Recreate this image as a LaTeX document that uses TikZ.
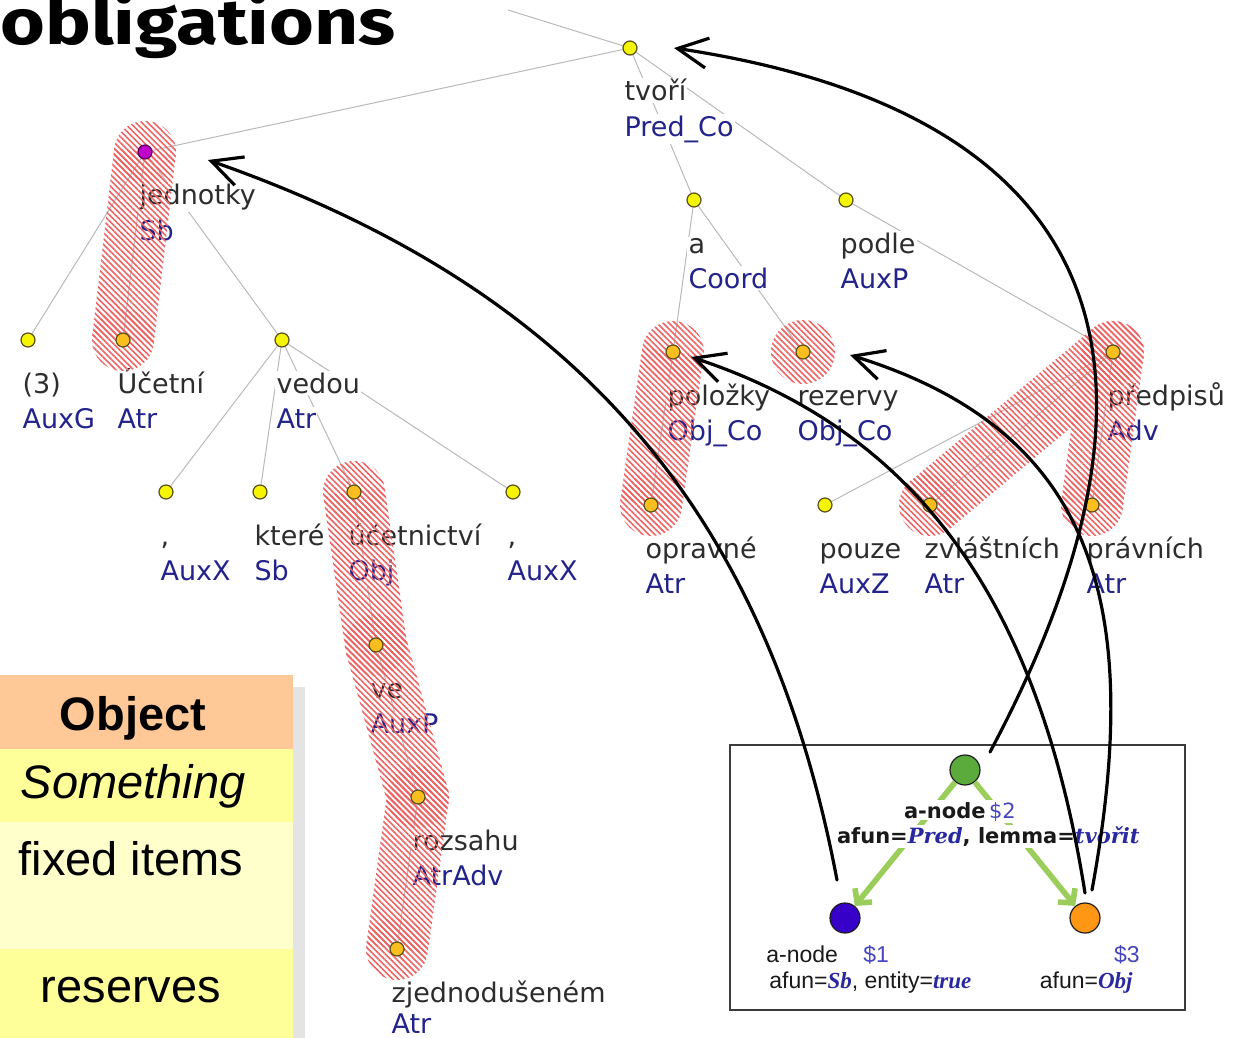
\documentclass[tikz,border=0pt]{standalone}
\usepackage{fontspec}
\usetikzlibrary{calc,arrows.meta,patterns.meta}
\newfontfamily\dv{DejaVu Sans}
\newfontfamily\dvs{DejaVu Serif}
\newfontfamily\lib{Liberation Sans}
\newfontfamily\libs{Liberation Serif}
\newfontfamily\fira{Fira Sans}
\definecolor{edgec}{RGB}{185,185,185}
\definecolor{wordc}{RGB}{45,45,45}
\definecolor{funcc}{RGB}{35,35,140}
\definecolor{nodey}{RGB}{245,245,0}
\definecolor{nodeo}{RGB}{250,190,30}
\definecolor{nodem}{RGB}{190,0,200}
\definecolor{nodemline}{RGB}{90,0,90}
\definecolor{nodeline}{RGB}{90,80,30}
\definecolor{hatchc}{RGB}{238,100,100}
\definecolor{peach}{RGB}{255,200,150}
\definecolor{yel}{RGB}{255,255,153}
\definecolor{lyel}{RGB}{255,255,204}
\definecolor{shadowc}{RGB}{228,228,228}
\definecolor{greenc}{RGB}{90,170,60}
\definecolor{bluec}{RGB}{55,0,200}
\definecolor{orangec}{RGB}{255,150,20}
\definecolor{garrc}{RGB}{155,205,90}
\definecolor{boxblue}{RGB}{40,40,160}
\definecolor{dollarc}{RGB}{70,70,190}
\definecolor{boxline}{RGB}{60,60,60}
\definecolor{circline}{RGB}{30,30,30}
\definecolor{btext}{RGB}{25,25,25}
\pgfdeclarelayer{edgel}\pgfdeclarelayer{labl}\pgfdeclarelayer{hatchl}\pgfdeclarelayer{circl}
\pgfsetlayers{edgel,labl,hatchl,circl,main}
\newcommand\tf{\dv\fontsize{13.5pt}{16pt}\selectfont}
\newcommand\tlab[4]{%
  \node[wd] (#1w) at ($(#2.center)+(-7,53)$) {#3};
  \node[fn] (#1f) at ($(#2.center)+(-7,88)$) {#4};}
\newcommand\hseg[2]{%
  \fill[hatch] (#1.center) circle[radius=31] (#2.center) circle[radius=31];
  \fill[hatch] ($(#1.center)!15.5pt!90:(#2.center)$) -- ($(#2.center)!15.5pt!-90:(#1.center)$)
     -- ($(#2.center)!15.5pt!90:(#1.center)$) -- ($(#1.center)!15.5pt!-90:(#2.center)$) -- cycle;}
\tikzset{
  tn/.style={circle, draw=nodeline, line width=0.6pt, fill=nodey, minimum size=7pt, inner sep=0pt},
  tnh/.style={tn, fill=nodeo},
  tnm/.style={tn, fill=nodem, draw=nodemline},
  edge/.style={draw=edgec, line width=0.5pt},
  wd/.style={anchor=base west, font=\tf, text=wordc, fill=white, inner sep=0.6pt},
  fn/.style={wd, text=funcc},
  hatch/.style={pattern={Lines[angle=-45,distance=2.1pt,line width=0.8pt]}, pattern color=hatchc},
  bigarr/.style={draw=black, line width=1.6pt, line cap=round, -{Straight Barb[length=15pt,width=15pt]}},
  garr/.style={draw=garrc, line width=2.8pt, -{Straight Barb[length=5pt,width=11pt]}},
  bc/.style={circle, minimum size=15pt, inner sep=0pt, draw=circline, line width=0.6pt},
  tabt/.style={anchor=base, inner sep=0pt, text=black},
  bxt/.style={anchor=base west, inner sep=0.8pt, fill=white, font=\dv\bfseries\fontsize{10.5pt}{12pt}\selectfont, text=btext},
  lbt/.style={anchor=base west, inner sep=0pt, font=\lib\fontsize{11.5pt}{13pt}\selectfont, text=btext}
}
\begin{document}
\begin{tikzpicture}[x=0.5pt,y=-0.5pt]
\useasboundingbox (0,0) rectangle (1242,1038);
% title
\node[anchor=base west, inner sep=0pt] (title) at (0,45) {\fira\bfseries\fontsize{32pt}{38pt}\selectfont\scalebox{1.2}[1]{obligations}};
% tree nodes
\begin{pgfonlayer}{circl}
\node[tn] (root) at (630,48) {};
\node[tnm] (jed) at (145,152) {};
\node[tn] (a) at (694,200) {};
\node[tn] (podle) at (846,200) {};
\node[tn] (n3) at (28,340) {};
\node[tnh] (ucet) at (123,340) {};
\node[tn] (vedou) at (282,340) {};
\node[tn] (c1) at (166,492) {};
\node[tn] (ktere) at (260,492) {};
\node[tnh] (ucetn) at (354,492) {};
\node[tn] (c2) at (513,492) {};
\node[tnh] (ve) at (376,645) {};
\node[tnh] (roz) at (418,797) {};
\node[tnh] (zjed) at (397,949) {};
\node[tnh] (pol) at (673,352) {};
\node[tnh] (rez) at (803,352) {};
\node[tnh] (pred) at (1113,352) {};
\node[tnh] (oprav) at (651,505) {};
\node[tn] (pouze) at (825,505) {};
\node[tnh] (zvl) at (930,505) {};
\node[tnh] (prav) at (1092,505) {};
\end{pgfonlayer}
\coordinate (up) at (508,10);
% edges
\begin{pgfonlayer}{edgel}
\draw[edge] (root) -- (up);
\draw[edge] (root) -- (jed);
\draw[edge] (root) -- (a);
\draw[edge] (root) -- (podle);
\draw[edge] (jed) -- (n3);
\draw[edge] (jed) -- (ucet);
\draw[edge] (jed) -- (vedou);
\draw[edge] (vedou) -- (c1);
\draw[edge] (vedou) -- (ktere);
\draw[edge] (vedou) -- (ucetn);
\draw[edge] (vedou) -- (c2);
\draw[edge] (ucetn) -- (ve);
\draw[edge] (ve) -- (roz);
\draw[edge] (roz) -- (zjed);
\draw[edge] (a) -- (pol);
\draw[edge] (a) -- (rez);
\draw[edge] (podle) -- (pred);
\draw[edge] (pol) -- (oprav);
\draw[edge] (pred) -- (pouze);
\draw[edge] (pred) -- (zvl);
\draw[edge] (pred) -- (prav);
\end{pgfonlayer}
% labels
\begin{pgfonlayer}{labl}
\tlab{root}{root}{tvoří}{Pred\_Co}
\tlab{jed}{jed}{jednotky}{Sb}
\tlab{a}{a}{a}{Coord}
\tlab{podle}{podle}{podle}{AuxP}
\tlab{n3}{n3}{(3)}{AuxG}
\tlab{ucet}{ucet}{Účetní}{Atr}
\tlab{vedou}{vedou}{vedou}{Atr}
\tlab{c1}{c1}{,}{AuxX}
\tlab{ktere}{ktere}{které}{Sb}
\tlab{ucetn}{ucetn}{účetnictví}{Obj}
\tlab{c2}{c2}{,}{AuxX}
\tlab{ve}{ve}{ve}{AuxP}
\tlab{roz}{roz}{rozsahu}{AtrAdv}
\node[wd] (zjedw) at ($(zjed.center)+(-7,53)$) {zjednodušeném};
\node[fn] (zjedf) at ($(zjed.center)+(-7,84)$) {Atr};
\tlab{pol}{pol}{položky}{Obj\_Co}
\tlab{rez}{rez}{rezervy}{Obj\_Co}
\tlab{pred}{pred}{předpisů}{Adv}
\tlab{oprav}{oprav}{opravné}{Atr}
\tlab{pouze}{pouze}{pouze}{AuxZ}
\tlab{zvl}{zvl}{zvláštních}{Atr}
\tlab{prav}{prav}{právních}{Atr}
\end{pgfonlayer}
% hatches
\begin{pgfonlayer}{hatchl}
\hseg{jed}{ucet}
\hseg{ucetn}{ve}
\hseg{ve}{roz}
\hseg{roz}{zjed}
\hseg{pol}{oprav}
\fill[hatch] (rez.center) circle[radius=32];
\hseg{pred}{zvl}
\hseg{pred}{prav}
\end{pgfonlayer}
% table
\fill[shadowc] (293,687) rectangle (305,1038);
\fill[peach] (0,675) rectangle (293,749);
\fill[yel] (0,749) rectangle (293,822);
\fill[lyel] (0,822) rectangle (293,949);
\fill[yel] (0,949) rectangle (293,1038);
\node[tabt, font=\lib\bfseries\fontsize{23.5pt}{28pt}\selectfont] (obj) at (133,730) {Object};
\node[tabt, font=\lib\itshape\fontsize{23.5pt}{28pt}\selectfont] (some) at (133,798) {Something};
\node[tabt, font=\lib\fontsize{23.5pt}{28pt}\selectfont] (fixed) at (131,875) {fixed items};
\node[tabt, font=\lib\fontsize{23.5pt}{28pt}\selectfont] (res) at (131,1002) {reserves};
% box
\draw[draw=boxline, line width=0.9pt] (730,745) rectangle (1185,1010);
\node[bc, fill=greenc] (g2) at (965,770) {};
\node[bc, fill=bluec] (b1) at (845,918) {};
\node[bc, fill=orangec] (o3) at (1085,918) {};
\draw[garr] (g2) -- (b1);
\draw[garr] (g2) -- (o3);
\node[bxt] (an2) at (902,818) {a-node};
\node[bxt, font=\dv\fontsize{10.5pt}{12pt}\selectfont, text=dollarc] (d2) at (987,818) {\$2};
\node[bxt] (af2) at (835,843) {afun=\textcolor{boxblue}{\dvs\bfseries\itshape Pred}, lemma=\textcolor{boxblue}{\dvs\bfseries\itshape tvořit}};
\node[lbt] (an1) at (766,962) {a-node};
\node[lbt, text=dollarc] (d1) at (863,962) {\$1};
\node[lbt] (af1) at (769,988) {afun=\textcolor{boxblue}{\libs\bfseries\itshape Sb}, entity=\textcolor{boxblue}{\libs\bfseries\itshape true}};
\node[lbt, anchor=base east, text=dollarc] (d3) at (1140,962) {\$3};
\node[lbt, anchor=base east] (af3) at (1133,988) {afun=\textcolor{boxblue}{\libs\bfseries\itshape Obj}};
% big arrows
\coordinate (s1) at (990,752);
\coordinate (e1) at ($(root.center)+(44,0)$);
\coordinate (s2) at (837,880);
\coordinate (e2) at ($(jed.center)+(63,8)$);
\coordinate (s3) at (1085,893);
\coordinate (e3) at ($(pol.center)+(18,5)$);
\coordinate (s4) at (1092,890);
\coordinate (e4) at ($(rez.center)+(47,3)$);
\draw[bigarr] (s1) .. controls (1201,356) and (1099,112) .. (e1);
\draw[bigarr] (s2) .. controls (765,500) and (565,285) .. (e2);
\draw[bigarr] (s3) .. controls (1041,616) and (928,435) .. (e3);
\draw[bigarr] (s4) .. controls (1146,596) and (1089,429) .. (e4);
\end{tikzpicture}
\end{document}
